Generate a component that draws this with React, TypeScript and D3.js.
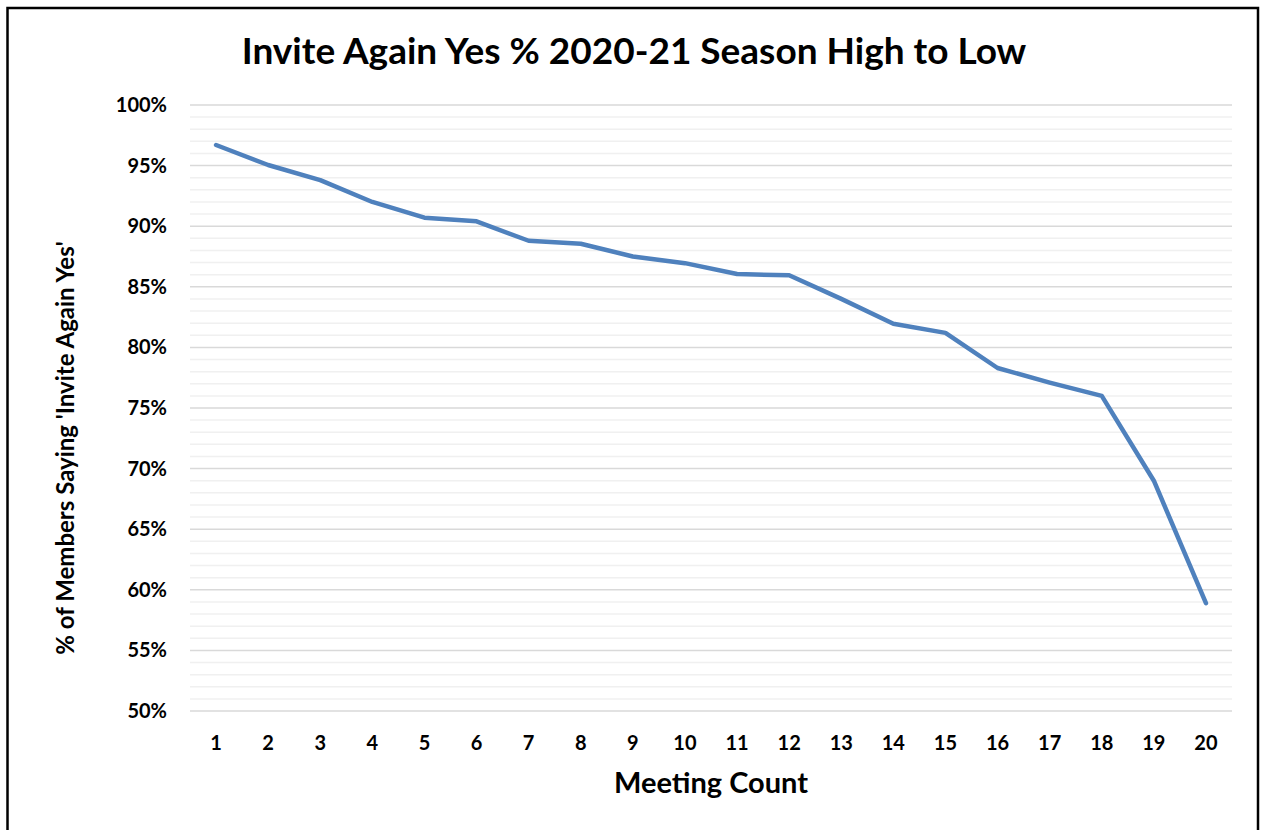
import { useEffect, useRef } from "react";
import * as d3 from "d3";

// chart data
const meetings = ["1", "2", "3", "4", "5", "6", "7", "8", "9", "10", "11", "12", "13", "14", "15", "16", "17", "18", "19", "20"];
const inviteYes = [96.7, 95.05, 93.8, 92.0, 90.7, 90.4, 88.8, 88.55, 87.5, 86.95, 86.05, 85.95, 84.0, 81.95, 81.2, 78.3, 77.1, 76.0, 69.0, 58.9];
const yTicks = [50, 55, 60, 65, 70, 75, 80, 85, 90, 95, 100];

const App = () => {
  const width = 1261;
  const height = 830;
  const left = 190;
  const right = 1232;
  const top = 105;
  const bottom = 711;
  const font = "Lato, 'Open Sans', sans-serif";

  const svgRef = useRef<SVGSVGElement>(null);

  useEffect(() => {
    const svg = d3.select(svgRef.current);
    svg.selectAll("*").remove();

    const xScale = d3.scaleBand().domain(meetings).range([left, right]);
    const yScale = d3.scaleLinear().domain([50, 100]).range([bottom, top]);

    // outer frame
    svg
      .append("rect")
      .attr("x", 7.5)
      .attr("y", 8)
      .attr("width", 1250.5)
      .attr("height", 840)
      .attr("fill", "#fff")
      .attr("stroke", "#000")
      .attr("stroke-width", 2.5);

    // minor gridlines every 1%
    const minor = d3.range(50, 101, 1).filter((d) => d % 5 !== 0);
    svg
      .append("g")
      .selectAll("line")
      .data(minor)
      .enter()
      .append("line")
      .attr("x1", left)
      .attr("x2", right)
      .attr("y1", (d) => yScale(d))
      .attr("y2", (d) => yScale(d))
      .attr("stroke", "#f0f0f0")
      .attr("stroke-width", 1.5);

    // major gridlines
    svg
      .append("g")
      .selectAll("line")
      .data(yTicks)
      .enter()
      .append("line")
      .attr("x1", left)
      .attr("x2", right)
      .attr("y1", (d) => yScale(d))
      .attr("y2", (d) => yScale(d))
      .attr("stroke", "#d9d9d9")
      .attr("stroke-width", 1.5);

    // y tick labels
    svg
      .append("g")
      .selectAll("text")
      .data(yTicks)
      .enter()
      .append("text")
      .attr("x", 167)
      .attr("y", (d) => yScale(d))
      .attr("dy", "0.35em")
      .attr("text-anchor", "end")
      .attr("font-family", font)
      .attr("font-weight", 700)
      .attr("font-size", 20)
      .attr("fill", "#000")
      .text((d) => `${d}%`);

    // x tick labels
    svg
      .append("g")
      .selectAll("text")
      .data(meetings)
      .enter()
      .append("text")
      .attr("x", (d) => (xScale(d) as number) + xScale.bandwidth() / 2)
      .attr("y", 750)
      .attr("text-anchor", "middle")
      .attr("font-family", font)
      .attr("font-weight", 700)
      .attr("font-size", 20)
      .attr("fill", "#000")
      .text((d) => d);

    // line
    const line = d3
      .line<number>()
      .x((d, i) => (xScale(meetings[i]) as number) + xScale.bandwidth() / 2)
      .y((d) => yScale(d));

    svg
      .append("path")
      .attr("d", line(inviteYes))
      .attr("fill", "none")
      .attr("stroke", "#4f81bd")
      .attr("stroke-width", 4.5)
      .attr("stroke-linejoin", "round")
      .attr("stroke-linecap", "round");

    // titles
    svg
      .append("text")
      .attr("x", 634)
      .attr("y", 64)
      .attr("text-anchor", "middle")
      .attr("font-family", font)
      .attr("font-weight", 700)
      .attr("font-size", 37)
      .attr("fill", "#000")
      .text("Invite Again Yes % 2020-21 Season High to Low");

    svg
      .append("text")
      .attr("x", 711)
      .attr("y", 793)
      .attr("text-anchor", "middle")
      .attr("font-family", font)
      .attr("font-weight", 700)
      .attr("font-size", 29)
      .attr("fill", "#000")
      .text("Meeting Count");

    svg
      .append("text")
      .attr("transform", `translate(74,448) rotate(-90)`)
      .attr("text-anchor", "middle")
      .attr("font-family", font)
      .attr("font-weight", 700)
      .attr("font-size", 24)
      .attr("fill", "#000")
      .text("% of Members Saying 'Invite Again Yes'");
  }, []);

  return (
    <svg
      ref={svgRef}
      width={width}
      height={height}
      style={{ position: "absolute", left: 0, top: 0, background: "#fff" }}
    />
  );
};

export default App;
